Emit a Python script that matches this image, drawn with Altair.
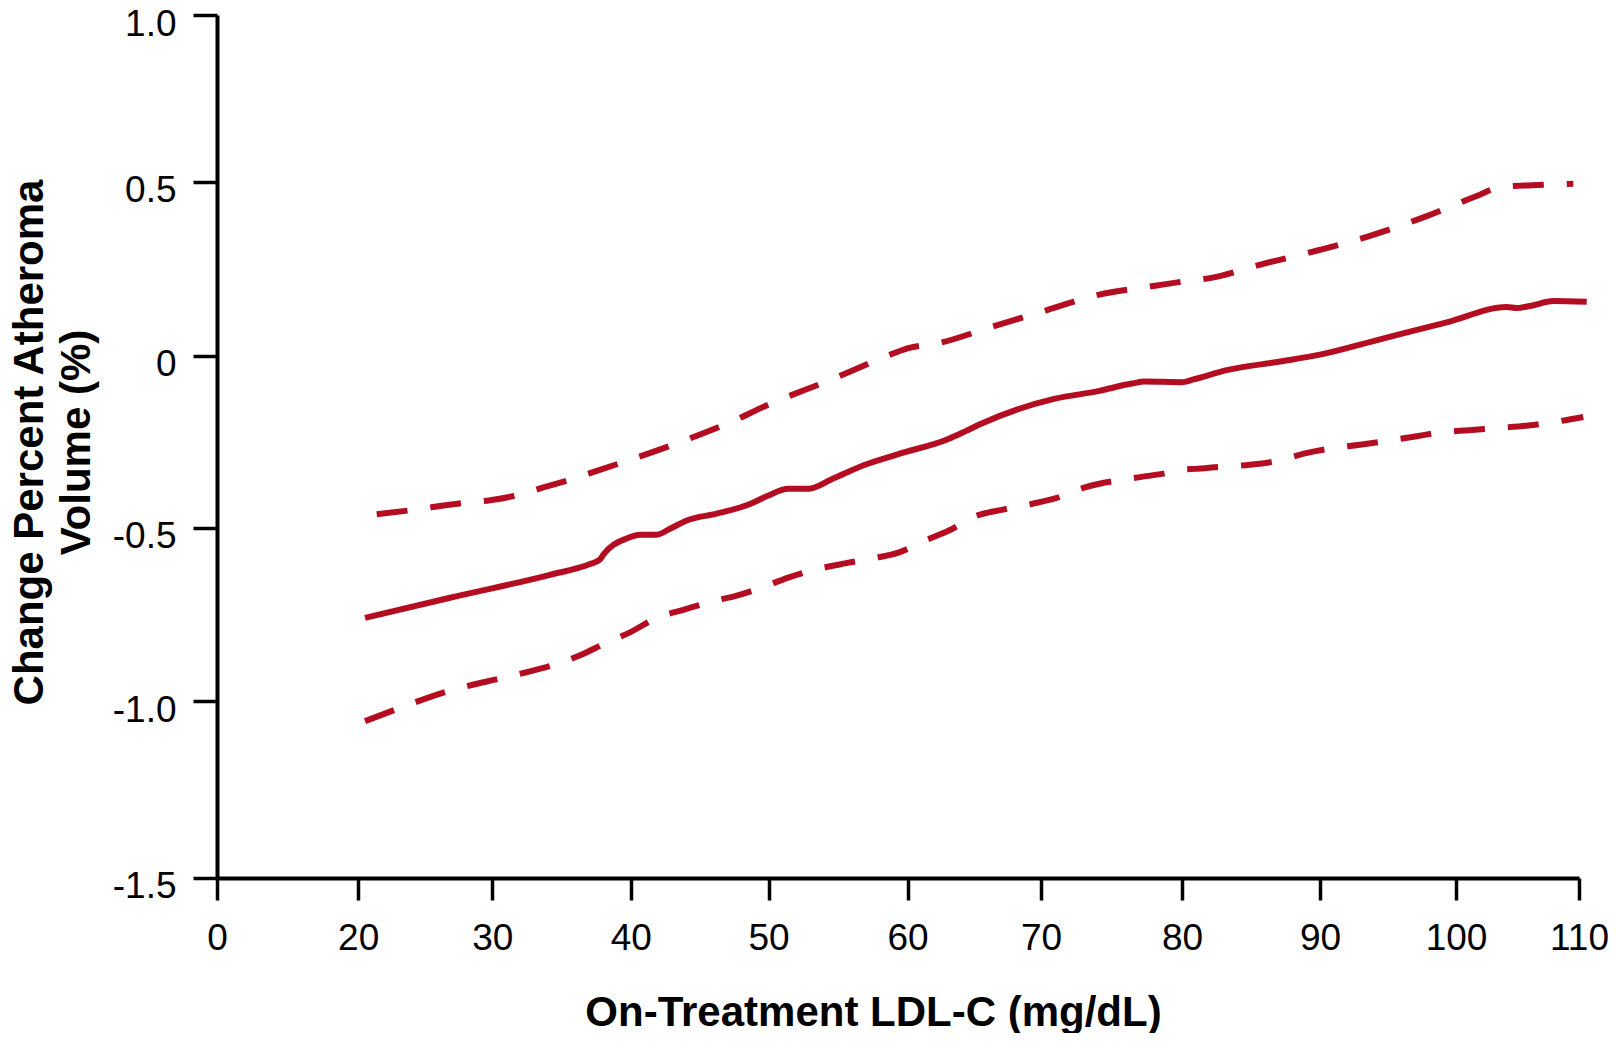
import altair as alt
import pandas as pd

# ---- data ----
solid_x = [20.51, 26.85, 34.17, 37.05, 37.77, 38.01, 39.70, 40.67, 41.88, 42.85,
           44.06, 46.24, 48.66, 49.9, 51.42, 52.86, 54.55, 56.94, 59.34, 63.06,
           64.31, 65.56, 70.99, 74.06, 76.43, 77.38, 79.98, 80.82, 83.24, 87.10,
           90.0, 94.41, 99.32, 104.12, 104.93, 106.02, 107.91, 110.63]
solid_y = [-0.760, -0.702, -0.636, -0.605, -0.592, -0.578, -0.531, -0.520, -0.520, -0.503,
           -0.479, -0.459, -0.431, -0.408, -0.387, -0.387, -0.359, -0.317, -0.286, -0.242,
           -0.220, -0.197, -0.125, -0.103, -0.081, -0.075, -0.077, -0.069, -0.042, -0.017,
           0.003, 0.047, 0.096, 0.140, 0.137, 0.143, 0.157, 0.155]

upper_x = [21.38, 23.74, 27.84, 29.83, 31.76, 33.68, 35.73, 37.54, 39.70, 43.45,
           47.20, 50.11, 54.55, 58.38, 60.06, 62.31, 66.31, 70.28, 74.06, 78.09,
           80.22, 82.03, 85.89, 89.88, 93.90, 97.70, 101.68, 103.58, 106.15, 109.54]
upper_y = [-0.461, -0.450, -0.428, -0.420, -0.406, -0.383, -0.359, -0.335, -0.306, -0.253,
           -0.194, -0.140, -0.069, -0.003, 0.022, 0.036, 0.083, 0.129, 0.175, 0.201,
           0.214, 0.223, 0.264, 0.303, 0.347, 0.399, 0.459, 0.484, 0.490, 0.494]

lower_x = [20.51, 22.74, 26.60, 30.68, 32.48, 34.53, 36.34, 38.38, 39.94, 41.88,
           43.81, 45.88, 47.69, 49.75, 51.42, 53.58, 55.50, 57.42, 59.34, 61.31,
           63.06, 65.18, 67.06, 69.30, 70.99, 73.12, 77.02, 78.79, 80.07, 80.94,
           82.75, 84.93, 86.86, 88.91, 90.74, 92.94, 94.90, 97.11, 98.82, 101.28,
           103.31, 105.88, 107.78, 110.35]
lower_y = [-1.057, -1.025, -0.973, -0.934, -0.917, -0.895, -0.868, -0.829, -0.802, -0.760,
           -0.737, -0.713, -0.696, -0.669, -0.644, -0.619, -0.603, -0.589, -0.572, -0.537,
           -0.509, -0.465, -0.448, -0.431, -0.415, -0.383, -0.353, -0.342, -0.331, -0.329,
           -0.323, -0.317, -0.306, -0.284, -0.270, -0.259, -0.248, -0.234, -0.223, -0.216,
           -0.210, -0.203, -0.194, -0.178]

x_ticks = [0, 20, 30, 40, 50, 60, 70, 80, 90, 100, 110]
y_ticks = [-1.5, -1.0, -0.5, 0, 0.5, 1.0]

x_title = "On-Treatment LDL-C (mg/dL)"
y_title = ["Change Percent Atheroma", "Volume (%)"]

RED = "#B40D21"

frames = []
for name, xs, ys in [("estimate", solid_x, solid_y),
                     ("upper", upper_x, upper_y),
                     ("lower", lower_x, lower_y)]:
    frames.append(pd.DataFrame({"x": xs, "y": ys, "series": name}))
df = pd.concat(frames, ignore_index=True)

# broken x axis (0 then 20..110) via a piecewise scale
x_scale = alt.Scale(domain=x_ticks,
                    range=[0, 141.2, 275.3, 413.8, 551.5, 690.5, 824, 965, 1103, 1239, 1362],
                    zero=False, nice=False)
y_scale = alt.Scale(domain=y_ticks,
                    range=[862.7, 686, 512.7, 340.7, 166.7, 0],
                    zero=False, nice=False)

x_enc = alt.X("x:Q", scale=x_scale,
              axis=alt.Axis(values=x_ticks, format="d", title=x_title,
                            tickSize=22, labelPadding=20, labelFontSize=37,
                            titleFontSize=42, titleX=656, titleY=147,
                            titleAlign="center", titleBaseline="alphabetic",
                            labelFlush=False, labelOverlap=False))
y_enc = alt.Y("y:Q", scale=y_scale,
              axis=alt.Axis(values=y_ticks, title=y_title,
                            labelExpr="datum.value == 0 ? '0' : (datum.value < 0 ? '-' : '') + format(abs(datum.value), '.1f')",
                            tickSize=24, labelPadding=17, labelFontSize=37, labelOffset=9,
                            titleFontSize=42, titleAngle=270, titleX=-175, titleY=427,
                            titleAlign="center", titleBaseline="alphabetic",
                            titleLineHeight=47,
                            labelFlush=False, labelOverlap=False))

base = alt.Chart(df)

solid = base.transform_filter(alt.datum.series == "estimate").mark_line(
    color=RED, strokeWidth=6, interpolate="monotone", strokeJoin="round"
).encode(x=x_enc, y=y_enc, order="x:Q")

upper = base.transform_filter(alt.datum.series == "upper").mark_line(
    color=RED, strokeWidth=6, interpolate="monotone", strokeDash=[31, 23]
).encode(x=x_enc, y=y_enc, order="x:Q")

lower = base.transform_filter(alt.datum.series == "lower").mark_line(
    color=RED, strokeWidth=6, interpolate="monotone", strokeDash=[31, 23]
).encode(x=x_enc, y=y_enc, order="x:Q")

chart = alt.layer(solid, upper, lower).properties(
    width=1362, height=863,
    autosize=alt.AutoSizeParams(type="none"),
    padding={"left": 209, "top": 7, "right": 29, "bottom": 155},
).configure_view(stroke=None).configure_axis(
    grid=False,
    domainColor="black", domainWidth=4,
    tickColor="black", tickWidth=3.5,
    labelColor="black", labelFont="Liberation Sans",
    titleColor="black", titleFont="Liberation Sans", titleFontWeight="bold",
)

chart.save("out.html", embed_options={"renderer": "svg", "actions": False})
